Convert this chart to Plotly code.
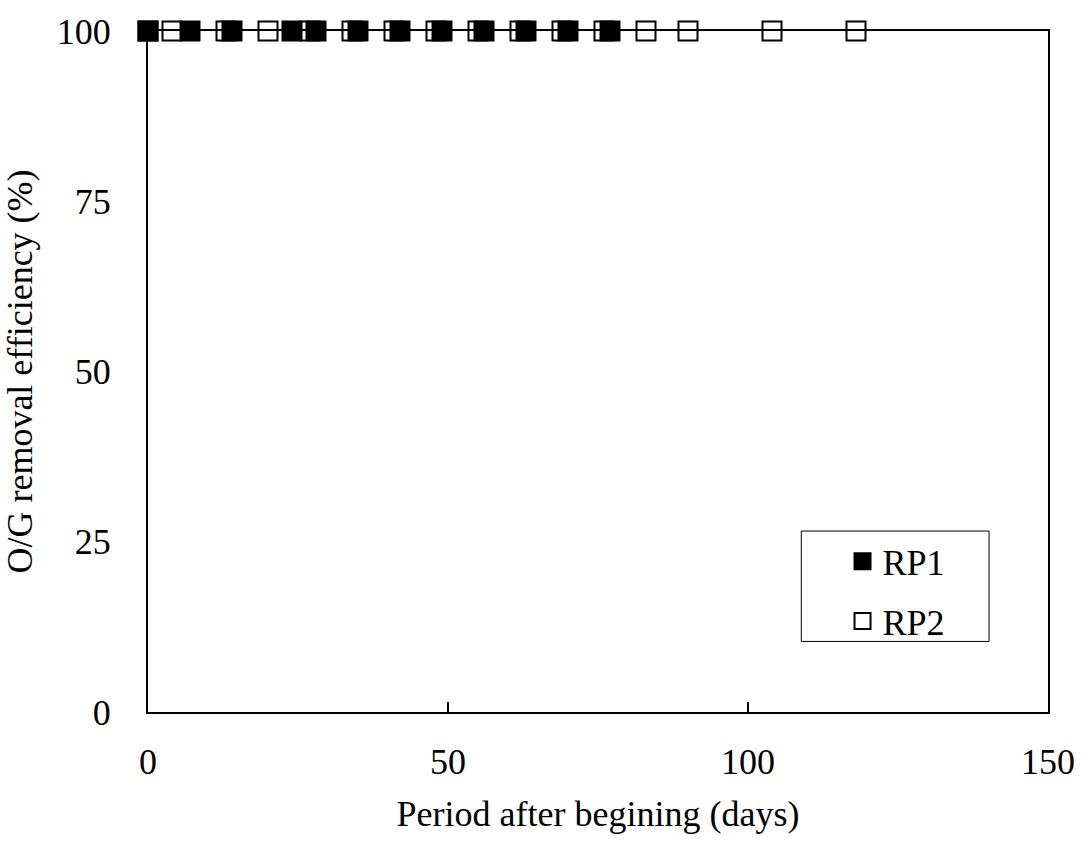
import plotly.graph_objects as go

# O/G removal efficiency over time for two reactors
rp1_days = [0, 7, 14, 24, 28, 35, 42, 49, 56, 63, 70, 77]
rp1_eff = [100, 100, 100, 100, 100, 100, 100, 100, 100, 100, 100, 100]

rp2_days = [0, 4, 13, 20, 27, 34, 41, 48, 55, 62, 69, 76, 83, 90, 104, 118]
rp2_eff = [100, 100, 100, 100, 100, 100, 100, 100, 100, 100, 100, 100, 100, 100, 100, 100]

x_ticks = [0, 50, 100, 150]
y_ticks = [0, 25, 50, 75, 100]

FONT = "Liberation Serif"
SIZE = 36

fig = go.Figure()
fig.add_trace(go.Scatter(
    x=rp2_days, y=rp2_eff, mode="markers", name="RP2",
    legendgroup="b", legendrank=2,
    marker=dict(symbol="square", size=19, color="white",
                line=dict(color="black", width=2)),
    cliponaxis=False,
))
fig.add_trace(go.Scatter(
    x=rp1_days, y=rp1_eff, mode="markers", name="RP1",
    legendgroup="a", legendrank=1,
    marker=dict(symbol="square", size=19, color="black",
                line=dict(color="black", width=2)),
    cliponaxis=False,
))

# frame around the legend
fig.add_shape(type="rect", xref="paper", yref="paper",
              x0=0.7259, x1=0.9345, y0=0.1036, y1=0.2657,
              line=dict(color="black", width=1), fillcolor="rgba(0,0,0,0)",
              layer="above")

fig.update_layout(
    width=1087, height=852,
    margin=dict(l=148, r=38, t=27, b=140),
    paper_bgcolor="white", plot_bgcolor="white",
    font=dict(family=FONT, size=SIZE, color="black"),
    showlegend=True,
    legend=dict(
        x=0.7717, y=0.2654, xanchor="left", yanchor="top",
        borderwidth=0, bgcolor="rgba(0,0,0,0)",
        font=dict(family=FONT, size=SIZE),
        tracegroupgap=10, itemwidth=30,
    ),
    xaxis=dict(
        range=[0, 150], tickvals=x_ticks, showgrid=False, zeroline=False,
        showline=True, linecolor="black", linewidth=2, mirror=True,
        ticks="inside", ticklen=10, tickwidth=2, tickcolor="black",
        ticklabelstandoff=17,
        title=dict(text="Period after begining (days)", standoff=20,
                   font=dict(family=FONT, size=SIZE)),
    ),
    yaxis=dict(
        range=[0, 100], tickvals=y_ticks, showgrid=False, zeroline=False,
        showline=True, linecolor="black", linewidth=2, mirror=True,
        ticks="", ticklabelstandoff=28,
        title=dict(text="O/G removal efficiency (%)", standoff=16,
                   font=dict(family=FONT, size=SIZE)),
    ),
)

fig.write_html("out.html")
